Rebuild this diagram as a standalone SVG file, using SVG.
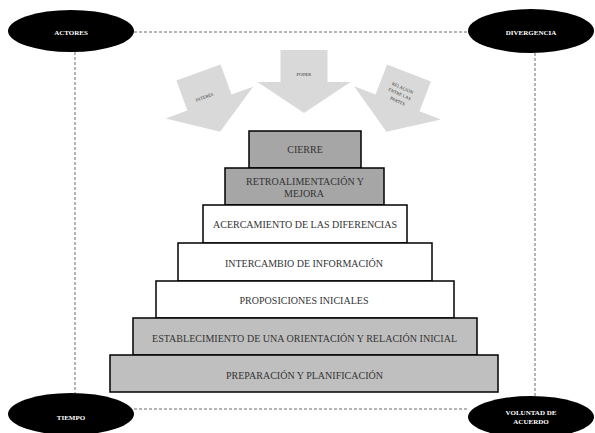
<svg xmlns="http://www.w3.org/2000/svg" width="595" height="433" viewBox="0 0 595 433">
<style>
.bg{fill:#ffffff}
.conn{stroke:#6b6b6b;stroke-width:1;stroke-dasharray:3,2;fill:none}
.ell{fill:#000000}
.et{font-family:"Liberation Serif",serif;font-weight:bold;font-size:7px;fill:#ffffff;text-anchor:middle}
.arr{fill:#d9d9d9}
.at{font-family:"Liberation Serif",serif;font-size:4.5px;fill:#333333;text-anchor:middle}
.box{stroke:#000000;stroke-width:1.5}
.dark{fill:#a6a6a6}
.light{fill:#bfbfbf}
.white{fill:#ffffff}
.bt{font-family:"Liberation Serif",serif;font-size:10px;fill:#333333;text-anchor:middle}
</style>
<defs>
<path id="arrow" d="M-23.5,0 H23.5 V32 H46.5 L0,63 L-46.5,32 H-23.5 Z"/>
</defs>
<rect class="bg" x="0" y="0" width="595" height="433"/>
<g id="connectors">
<line class="conn" x1="134" y1="32" x2="468" y2="32"/>
<line class="conn" x1="134" y1="409" x2="468" y2="409"/>
<line class="conn" x1="75" y1="52" x2="75" y2="393"/>
<line class="conn" x1="535" y1="53" x2="535" y2="397"/>
</g>
<g id="actores"><ellipse class="ell" cx="71" cy="31" rx="63" ry="21"/><text class="et" x="71" y="34.5">ACTORES</text></g>
<g id="divergencia"><ellipse class="ell" cx="531" cy="31" rx="63" ry="22"/><text class="et" x="531" y="34.5">DIVERGENCIA</text></g>
<g id="tiempo"><ellipse class="ell" cx="71" cy="414" rx="63" ry="21"/><text class="et" x="71" y="419.5">TIEMPO</text></g>
<g id="voluntad"><ellipse class="ell" cx="531" cy="417" rx="63" ry="21"/><text class="et" x="531" y="414.5">VOLUNTAD DE</text><text class="et" x="531" y="423.5">ACUERDO</text></g>
<g id="interes"><use href="#arrow" class="arr" transform="translate(198.5,72.5) rotate(-20)"/><text class="at" transform="translate(205,98.5) rotate(-20)">INTERÉS</text></g>
<g id="poder"><use href="#arrow" class="arr" transform="translate(304,50)"/><text class="at" x="304" y="75.5">PODER</text></g>
<g id="relacion"><use href="#arrow" class="arr" transform="translate(409,73) rotate(21)"/>
<text class="at" transform="translate(402,89.5) rotate(24)">RELACIÓN</text>
<text class="at" transform="translate(399,95.5) rotate(24)">ENTRE LAS</text>
<text class="at" transform="translate(397,102.5) rotate(24)">PARTES</text></g>
<g id="cierre"><rect class="box dark" x="249" y="131" width="112" height="37"/><text class="bt" x="305" y="152.5">CIERRE</text></g>
<g id="retro"><rect class="box dark" x="225" y="168" width="159" height="37"/><text class="bt" x="305" y="184.5" textLength="118">RETROALIMENTACIÓN Y</text><text class="bt" x="304" y="196.5">MEJORA</text></g>
<g id="acercamiento"><rect class="box white" x="203" y="205" width="204" height="38"/><text class="bt" x="305" y="227.5" textLength="184">ACERCAMIENTO DE LAS DIFERENCIAS</text></g>
<g id="intercambio"><rect class="box white" x="178" y="243" width="254" height="38"/><text class="bt" x="304" y="266.5" textLength="158">INTERCAMBIO DE INFORMACIÓN</text></g>
<g id="proposiciones"><rect class="box white" x="156" y="281" width="298" height="37"/><text class="bt" x="304" y="303.5" textLength="129">PROPOSICIONES INICIALES</text></g>
<g id="establecimiento"><rect class="box light" x="133" y="318" width="344" height="37"/><text class="bt" x="304.5" y="341.5" textLength="305">ESTABLECIMIENTO DE UNA ORIENTACIÓN Y RELACIÓN INICIAL</text></g>
<g id="preparacion"><rect class="box light" x="110" y="355" width="388" height="37"/><text class="bt" x="304.5" y="378.5" textLength="157">PREPARACIÓN Y PLANIFICACIÓN</text></g>
</svg>
